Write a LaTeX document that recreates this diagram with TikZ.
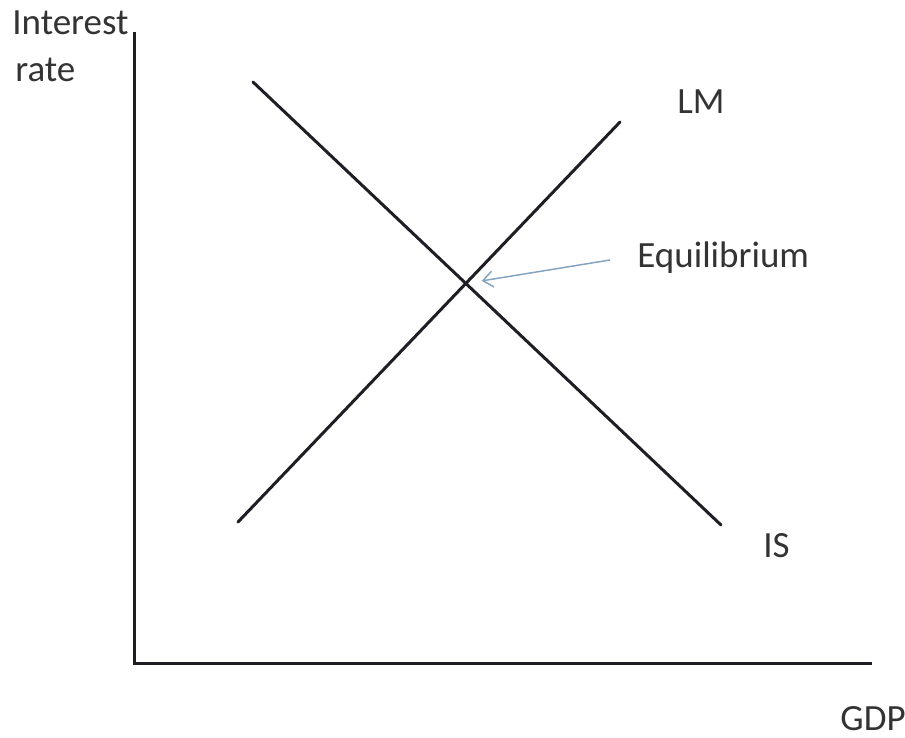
\documentclass[tikz,border=0pt]{standalone}
\usepackage{fontspec}
\setmainfont{Carlito}
\usetikzlibrary{arrows.meta, positioning, calc}
\definecolor{axisDark}{HTML}{1E1E24}
\definecolor{labelGray}{HTML}{333333}
\definecolor{pointerBlue}{HTML}{86A3C0}

\begin{document}
\begin{tikzpicture}[x=0.5pt, y=-0.5pt,
    curve/.style={draw=axisDark, line width=1.5pt, line cap=round},
    lbl/.style={anchor=base west, inner sep=0pt, text=labelGray,
                font=\fontsize{18.5}{23.5}\selectfont},
  ]
    \useasboundingbox (0,0) rectangle (905,738);

    % axes
    \coordinate (ytop) at (134,32);
    \coordinate (xend) at (872,663);
    \draw[axisDark, line width=1.5pt] (ytop) |- (xend);

    % IS and LM curves
    \coordinate (is1) at (253,82);
    \coordinate (is2) at (721,525);
    \coordinate (lm1) at (238,522);
    \coordinate (lm2) at (620,122);
    \draw[curve] (is1) -- (is2);
    \draw[curve] (lm1) -- (lm2);
    \coordinate (eq) at (intersection of is1--is2 and lm1--lm2);

    % labels
    \node[lbl] (yl1) at (12,35) {Interest};
    \node[lbl] (yl2) at (15,82) {rate};
    \node[lbl] (xl) at (840,730) {GDP};
    \node[lbl] (lm) at (677,113) {LM};
    \node[lbl] (is) at (763,557) {IS};
    \node[lbl] (eqlbl) at (637,267) {Equilibrium};
    \coordinate (tail) at (610,260);

    \draw[pointerBlue, line width=0.75pt,
          -{Straight Barb[length=5pt, width=8pt]}]
      (tail) -- ($(eq)!8pt!(tail)$);
\end{tikzpicture}
\end{document}
